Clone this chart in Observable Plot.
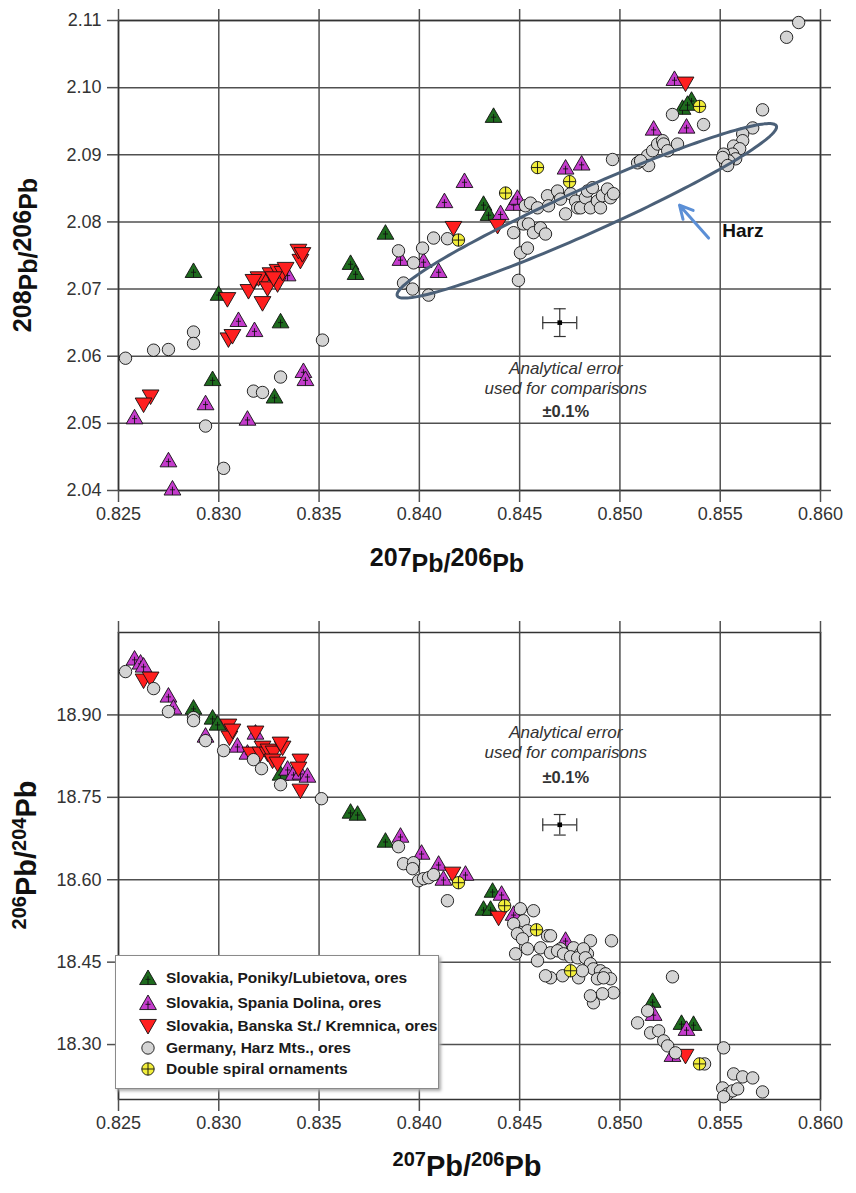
<!DOCTYPE html>
<html><head><meta charset="utf-8">
<script src="https://cdn.jsdelivr.net/npm/d3@7"></script>
<script src="https://cdn.jsdelivr.net/npm/@observablehq/plot@0.6"></script>
<style>
html,body{margin:0;padding:0;background:#fff;}
#wrap{position:relative;width:856px;height:1193px;overflow:hidden;}
#wrap svg{display:block;}
.legend{position:absolute;left:115px;top:955px;width:322px;height:132px;background:#fff;border:1px solid #8a8a8a;box-shadow:2px 2px 3px #aaa;font-family:"Liberation Sans",Arial,sans-serif;font-weight:bold;font-size:15.5px;color:#1a1a1a;}
.legend .row{position:absolute;left:0;height:22px;display:flex;align-items:center;white-space:nowrap;}
.legend .row svg{margin-left:22px;margin-right:8px;}
</style></head><body><div id="wrap"></div>
<script>
// ---------- data ----------
const seriesNames = ["Slovakia, Poniky/Lubietova, ores","Slovakia, Spania Dolina, ores","Slovakia, Banska St./ Kremnica, ores","Germany, Harz Mts., ores","Double spiral ornaments"];
const seriesColors = ["#1e6b1e","#c43ccc","#ff1f1f","#d4d4d4","#f2ee3a"];
const xTicks = [0.825,0.830,0.835,0.840,0.845,0.850,0.855,0.860];
const yTicksTop = [2.04,2.05,2.06,2.07,2.08,2.09,2.10,2.11];
const yTicksBottom = [18.30,18.45,18.60,18.75,18.90];

// Top panel: 207Pb/206Pb vs 208Pb/206Pb
const ponikyTop = [[0.82874,2.0727],[0.82999,2.0693],[0.82969,2.0566],[0.83308,2.0652],[0.83278,2.0540],[0.83657,2.0739],[0.83682,2.0724],[0.83831,2.0784],[0.84370,2.0958],[0.84320,2.0827],[0.84345,2.0812],[0.85312,2.0970],[0.85357,2.0982],[0.85337,2.0976]];
const spaniaTop = [[0.82580,2.0509],[0.82749,2.0445],[0.82769,2.0403],[0.82934,2.0530],[0.83098,2.0654],[0.83178,2.0639],[0.83143,2.0507],[0.83422,2.0578],[0.83432,2.0566],[0.83343,2.0722],[0.83906,2.0745],[0.84021,2.0742],[0.84096,2.0727],[0.84125,2.0831],[0.84225,2.0861],[0.84405,2.0813],[0.84470,2.0827],[0.84489,2.0836],[0.84729,2.0881],[0.84809,2.0887],[0.85168,2.0939],[0.85332,2.0942],[0.85272,2.1013]];
const banskaTop = [[0.82660,2.0540],[0.82625,2.0528],[0.83043,2.0685],[0.83048,2.0625],[0.83068,2.0630],[0.83148,2.0697],[0.83218,2.0679],[0.83223,2.0712],[0.83198,2.0716],[0.83258,2.0722],[0.83293,2.0707],[0.83293,2.0727],[0.83318,2.0724],[0.83407,2.0742],[0.83397,2.0757],[0.83417,2.0752],[0.83173,2.0712],[0.83243,2.0701],[0.83273,2.0716],[0.83333,2.0730],[0.84170,2.0791],[0.84390,2.0794],[0.85327,2.1006]];
const harzTop = [[0.82535,2.0597],[0.82675,2.0609],[0.82749,2.0610],[0.82874,2.0636],[0.82874,2.0619],[0.83517,2.0624],[0.83308,2.0569],[0.83173,2.0548],[0.83218,2.0546],[0.82934,2.0496],[0.83024,2.0433],
 [0.83896,2.0757],[0.83971,2.0739],[0.84016,2.0761],[0.83921,2.0709],[0.83966,2.0700],[0.84046,2.0691],[0.84071,2.0776],[0.84140,2.0775],[0.84494,2.0713],[0.84504,2.0754],[0.84539,2.0761],[0.84470,2.0784],[0.84519,2.0797],[0.84544,2.0797],[0.84569,2.0784],[0.84604,2.0791],[0.84629,2.0782],
 [0.84529,2.0824],[0.84554,2.0828],[0.84589,2.0821],[0.84639,2.0839],[0.84644,2.0824],[0.84689,2.0846],[0.84704,2.0834],[0.84729,2.0812],[0.84754,2.0842],[0.84779,2.0831],[0.84789,2.0821],[0.84804,2.0821],[0.84828,2.0836],[0.84838,2.0846],[0.84853,2.0821],[0.84863,2.0851],[0.84888,2.0831],[0.84903,2.0821],[0.84913,2.0839],[0.84938,2.0849],[0.84953,2.0836],[0.84968,2.0842],[0.84963,2.0893],
 [0.85088,2.0888],[0.85138,2.0899],[0.85163,2.0906],[0.85143,2.0884],[0.85103,2.0891],[0.85188,2.0916],[0.85213,2.0921],[0.85218,2.0916],[0.85238,2.0906],[0.85287,2.0916],[0.85262,2.0960],[0.85417,2.0945],
 [0.85711,2.0967],[0.85662,2.0940],[0.85612,2.0931],[0.85612,2.0921],[0.85567,2.0913],[0.85597,2.0909],[0.85562,2.0901],[0.85517,2.0901],[0.85527,2.0887],[0.85577,2.0894],[0.85542,2.0891],[0.85512,2.0896],[0.85537,2.0884],[0.85831,2.1075],[0.85891,2.1097]];
const spiralTop = [[0.84195,2.0773],[0.84430,2.0843],[0.84589,2.0881],[0.84749,2.0860],[0.85397,2.0972]];

// Bottom panel: 207Pb/206Pb vs 206Pb/204Pb
const ponikyBottom = [[0.82874,18.9133],[0.82969,18.8951],[0.82994,18.8842],[0.83308,18.7931],[0.83657,18.7239],[0.83692,18.7202],[0.83831,18.6711],[0.84365,18.5800],[0.84320,18.5472],[0.84355,18.5472],[0.85163,18.3796],[0.85307,18.3395],[0.85367,18.3377]];
const spaniaBottom = [[0.82580,19.0026],[0.82610,18.9953],[0.82625,18.9898],[0.82749,18.9352],[0.82774,18.9133],[0.82934,18.8623],[0.83093,18.8441],[0.83143,18.8313],[0.83183,18.8678],[0.83343,18.8022],[0.83373,18.7931],[0.83407,18.7949],[0.83442,18.7894],[0.83906,18.6802],[0.84011,18.6492],[0.84096,18.6292],[0.84120,18.6019],[0.84230,18.6110],[0.84410,18.5746],[0.84470,18.5381],[0.84729,18.4907],[0.85168,18.3559],[0.85332,18.3286],[0.85262,18.2812]];
const banskaBottom = [[0.82625,18.9625],[0.82660,18.9661],[0.83048,18.8805],[0.83053,18.8587],[0.83068,18.8714],[0.83183,18.8678],[0.83158,18.8295],[0.83218,18.8404],[0.83208,18.8295],[0.83243,18.8295],[0.83248,18.8350],[0.83273,18.8313],[0.83318,18.8404],[0.83308,18.8477],[0.83268,18.8168],[0.83293,18.8113],[0.83407,18.8168],[0.83397,18.8022],[0.83407,18.7621],[0.84165,18.6110],[0.84395,18.5308],[0.85327,18.2794]];
const harzBottom = [[0.82535,18.9789],[0.82675,18.9479],[0.82749,18.9060],[0.82874,18.8951],[0.82874,18.8896],[0.82934,18.8532],[0.83024,18.8350],[0.83173,18.8186],[0.83213,18.8022],[0.83308,18.7730],[0.83512,18.7475],
 [0.83896,18.6601],[0.83921,18.6292],[0.83971,18.6310],[0.83966,18.6201],[0.83996,18.5982],[0.84021,18.6019],[0.84046,18.6037],[0.84071,18.6092],[0.84140,18.5618],
 [0.84504,18.5472],[0.84569,18.5436],[0.84519,18.5253],[0.84470,18.5199],[0.84539,18.5071],[0.84489,18.5017],[0.84514,18.4925],[0.84539,18.4743],[0.84604,18.4761],[0.84639,18.4980],[0.84654,18.4670],[0.84480,18.4652],[0.84704,18.4743],[0.84769,18.4761],[0.84803,18.4652],[0.84838,18.4652],[0.84853,18.4889],[0.84958,18.4889],[0.84654,18.4980],[0.84689,18.4707],[0.84719,18.4652],[0.84754,18.4598],[0.84789,18.4579],[0.84818,18.4743],[0.84828,18.4579],[0.84853,18.4470],[0.84868,18.4379],[0.84903,18.4343],[0.84928,18.4288],[0.84953,18.4197],[0.84888,18.4197],[0.84918,18.4215],[0.84968,18.3942],[0.84913,18.3924],[0.84868,18.3760],[0.84853,18.3887],[0.84714,18.4252],[0.84654,18.4215],[0.84794,18.4215],[0.84813,18.4343],[0.84589,18.4525],[0.84629,18.4252],
 [0.85262,18.4233],[0.85138,18.3614],[0.85088,18.3395],[0.85153,18.3213],[0.85193,18.3250],[0.85218,18.3067],[0.85238,18.2976],[0.85277,18.2849],[0.85422,18.2648],[0.85517,18.2940],[0.85567,18.2466],[0.85612,18.2412],[0.85662,18.2393],[0.85711,18.2138],[0.85512,18.2211],[0.85537,18.2102],[0.85562,18.2157],[0.85587,18.2193],[0.85517,18.2050]];
const spiralBottom = [[0.84195,18.5946],[0.84425,18.5527],[0.84584,18.5089],[0.84754,18.4343],[0.85397,18.2648]];

// annotations
const errorTop = [{x:0.8470, y:2.0650}];
const errorBottom = [{x:0.8470, y:18.700}];
const errorText = ["Analytical error","used for comparisons","±0.1%"];
const errorTextTopY = [2.0581,2.0552,2.0518];
const errorTextBottomY = [18.868,18.831,18.786];
const errorTextX = 0.8473;
const harzEllipse = {x1:0.8389, y1:2.0690, x2:0.8578, y2:2.0943, halfWidthPx:22};
const harzArrow = [{x1:0.85442, y1:2.0776, x2:0.85297, y2:2.0825}];
const harzLabel = [{x:0.8551, y:2.0787, text:"Harz"}];

// ---------- symbols ----------
function triUpCross(){return {draw(ctx,size){const r=Math.sqrt(size/Math.PI),w=r*1.4,h=w*1.732,t=-h*0.55,b=h*0.45;
  ctx.moveTo(0,t);ctx.lineTo(w,b);ctx.lineTo(-w,b);ctx.closePath();
  ctx.moveTo(0,-r*0.3);ctx.lineTo(0,b);ctx.moveTo(-r*0.42,r*0.22);ctx.lineTo(r*0.42,r*0.22);}};}
const symUp = triUpCross();
const symDown = {draw(ctx,size){const r=Math.sqrt(size/Math.PI),w=r*1.4,h=w*1.732,t=-h*0.45,b=h*0.55;
  ctx.moveTo(-w,t);ctx.lineTo(w,t);ctx.lineTo(0,b);ctx.closePath();}};
const symCircle = {draw(ctx,size){const r=Math.sqrt(size/Math.PI);ctx.moveTo(r,0);ctx.arc(0,0,r,0,2*Math.PI);ctx.closePath();}};
const symCirclePlus = {draw(ctx,size){const r=Math.sqrt(size/Math.PI);ctx.moveTo(r,0);ctx.arc(0,0,r,0,2*Math.PI);ctx.closePath();
  ctx.moveTo(-r,0);ctx.lineTo(r,0);ctx.moveTo(0,-r);ctx.lineTo(0,r);}};
const symV = {draw(ctx,size){const r=Math.sqrt(size/Math.PI);ctx.moveTo(0,-r);ctx.lineTo(0,r);}};
const symH = {draw(ctx,size){const r=Math.sqrt(size/Math.PI);ctx.moveTo(-r,0);ctx.lineTo(r,0);}};
const seriesSymbols = [symUp, symUp, symDown, symCircle, symCirclePlus];
const seriesR = [6, 6, 6, 6.2, 6.2];

const W = 856, ML = 118, MR = 36;
const tickFont = '"Liberation Sans Narrow","Arial Narrow","Liberation Sans",sans-serif';
const gridStroke = "#505050";

function pointMarks(sets){
  return sets.map((s,i)=>Plot.dot(s,{x:d=>d[0],y:d=>d[1],r:seriesR[i],symbol:seriesSymbols[i],fill:seriesColors[i],stroke:"#111",strokeWidth:0.9}));
}
function axisMarks(yTicks){
  const common = {stroke:gridStroke, strokeWidth:1.5, strokeOpacity:1};
  return [
    Plot.gridX(xTicks,{...common}),
    Plot.gridY(yTicks,{...common}),
    Plot.frame({stroke:"#333", strokeWidth:1.5}),
    Plot.axisX(xTicks,{anchor:"bottom",tickSize:12,tickPadding:5,tickFormat:d3.format(".3f"),label:null,...common,fill:"#333",fontSize:18,fontFamily:tickFont}),
    Plot.axisX(xTicks,{anchor:"top",tickSize:12,tickFormat:()=>"",label:null,...common}),
    Plot.axisY(yTicks,{anchor:"left",tickSize:11,tickPadding:6,tickFormat:d3.format(".2f"),label:null,...common,fill:"#333",fontSize:18,fontFamily:tickFont}),
    Plot.axisY(yTicks,{anchor:"right",tickSize:10,tickFormat:()=>"",label:null,...common})
  ];
}
function errorMarks(err, textY){
  const e = 0.001;
  const tf = "Liberation Sans,Arial,sans-serif";
  return [
    Plot.ruleY(err,{y:"y",x1:d=>d.x*(1-e),x2:d=>d.x*(1+e),stroke:"#333",strokeWidth:1.2}),
    Plot.ruleX(err,{x:"x",y1:d=>d.y*(1-e),y2:d=>d.y*(1+e),stroke:"#333",strokeWidth:1.2}),
    Plot.dot(err,{x:d=>d.x*(1-e),y:"y",r:6.5,symbol:symV,fill:"none",stroke:"#333",strokeWidth:1.2}),
    Plot.dot(err,{x:d=>d.x*(1+e),y:"y",r:6.5,symbol:symV,fill:"none",stroke:"#333",strokeWidth:1.2}),
    Plot.dot(err,{x:"x",y:d=>d.y*(1-e),r:6,symbol:symH,fill:"none",stroke:"#333",strokeWidth:1.2}),
    Plot.dot(err,{x:"x",y:d=>d.y*(1+e),r:6,symbol:symH,fill:"none",stroke:"#333",strokeWidth:1.2}),
    Plot.dot(err,{x:"x",y:"y",r:2.6,symbol:"square",fill:"#000"}),
    Plot.text(errorText.slice(0,2).map((t,i)=>({t,y:textY[i]})),{x:()=>errorTextX,y:"y",text:"t",fontStyle:"italic",fontSize:17,fill:"#333",fontFamily:tf}),
    Plot.text([{t:errorText[2],y:textY[2]}],{x:()=>errorTextX,y:"y",text:"t",fontWeight:"bold",fontSize:16.5,fill:"#333",fontFamily:tf})
  ];
}

const wrap = document.getElementById("wrap");

// ---------- top ----------
const topH = 600, topMT = 20, topMB = 110;
const kx = (W-ML-MR)/(0.860-0.825), ky = (topH-topMT-topMB)/(2.11-2.04);
function ellipsePoints(e){
  const p1=[e.x1*kx,-e.y1*ky], p2=[e.x2*kx,-e.y2*ky];
  const cx=(p1[0]+p2[0])/2, cy=(p1[1]+p2[1])/2;
  const a=Math.hypot(p2[0]-p1[0],p2[1]-p1[1])/2, th=Math.atan2(p2[1]-p1[1],p2[0]-p1[0]), b=e.halfWidthPx;
  return d3.range(0,181).map(i=>{const t=i/180*2*Math.PI,u=a*Math.cos(t),v=b*Math.sin(t);
    return {x:(cx+u*Math.cos(th)-v*Math.sin(th))/kx, y:-(cy+u*Math.sin(th)+v*Math.cos(th))/ky};});
}
const topPlot = Plot.plot({
  width:W, height:topH, marginLeft:ML, marginRight:MR, marginTop:topMT, marginBottom:topMB,
  x:{domain:[0.825,0.860]}, y:{domain:[2.04,2.11]},
  style:{background:"transparent", color:"#333"},
  marks:[
    ...axisMarks(yTicksTop),
    ...errorMarks(errorTop, errorTextTopY),
    ...pointMarks([ponikyTop,spaniaTop,banskaTop,harzTop,spiralTop]),
    Plot.line(ellipsePoints(harzEllipse),{x:"x",y:"y",stroke:"#4b6078",strokeWidth:3,curve:"linear-closed"}),
    Plot.arrow(harzArrow,{x1:"x1",y1:"y1",x2:"x2",y2:"y2",stroke:"#5b8fd6",strokeWidth:3,headLength:11,headAngle:55}),
    Plot.text(harzLabel,{x:"x",y:"y",text:"text",textAnchor:"start",fontWeight:"bold",fontSize:19,fill:"#111",fontFamily:"Liberation Sans,Arial,sans-serif"})
  ]
});
wrap.appendChild(topPlot);

// ---------- bottom ----------
const bottomPlot = Plot.plot({
  width:W, height:593, marginLeft:ML, marginRight:MR, marginTop:32, marginBottom:94,
  x:{domain:[0.825,0.860]}, y:{domain:[18.20,19.05]},
  style:{background:"transparent", color:"#333"},
  marks:[
    ...axisMarks(yTicksBottom),
    ...errorMarks(errorBottom, errorTextBottomY),
    ...pointMarks([ponikyBottom,spaniaBottom,banskaBottom,harzBottom,spiralBottom])
  ]
});
wrap.appendChild(bottomPlot);

// ---------- axis titles (real text with tspans) ----------
const titleFont = "Liberation Sans,Arial,sans-serif";
function lowered(svg, x, y, rot, parts){
  const t = d3.select(svg).append("text").attr("transform",`translate(${x},${y}) rotate(${rot})`)
    .attr("text-anchor","middle").attr("font-family",titleFont).attr("font-weight","bold").attr("fill","#111");
  parts.forEach(p=>t.append("tspan").attr("dy",p.dy).attr("font-size",p.fs).text(p.t));
}
const lowStyle = (a,b)=>[{t:a,dy:0,fs:25},{t:"Pb",dy:6,fs:25},{t:"/",dy:0,fs:25},{t:b,dy:-6,fs:25},{t:"Pb",dy:6,fs:25}];
const supStyle = (a,b)=>[{t:a,dy:0,fs:20},{t:"Pb",dy:10,fs:29},{t:"/",dy:0,fs:29},{t:b,dy:-10,fs:20},{t:"Pb",dy:10,fs:29}];
lowered(topPlot, 447, 566, 0, lowStyle("207","206"));
lowered(topPlot, 31, 255, -90, lowStyle("208","206"));
lowered(bottomPlot, 467, 566, 0, supStyle("207","206"));
lowered(bottomPlot, 26, 255, -90, supStyle("206","204"));

// ---------- legend ----------
const leg = document.createElement("div"); leg.className="legend"; wrap.appendChild(leg);
const rowTops = [11,36,59,81,102];
seriesNames.forEach((name,i)=>{
  const row=document.createElement("div"); row.className="row"; row.style.top=rowTops[i]+"px";
  const p=d3.path(); seriesSymbols[i].draw(p, Math.PI*seriesR[i]*seriesR[i]);
  row.innerHTML=`<svg width="20" height="20" viewBox="-10 -10 20 20"><path d="${p.toString()}" fill="${seriesColors[i]}" stroke="#111" stroke-width="0.9"/></svg><span>${name}</span>`;
  leg.appendChild(row);
});
</script></body></html>
